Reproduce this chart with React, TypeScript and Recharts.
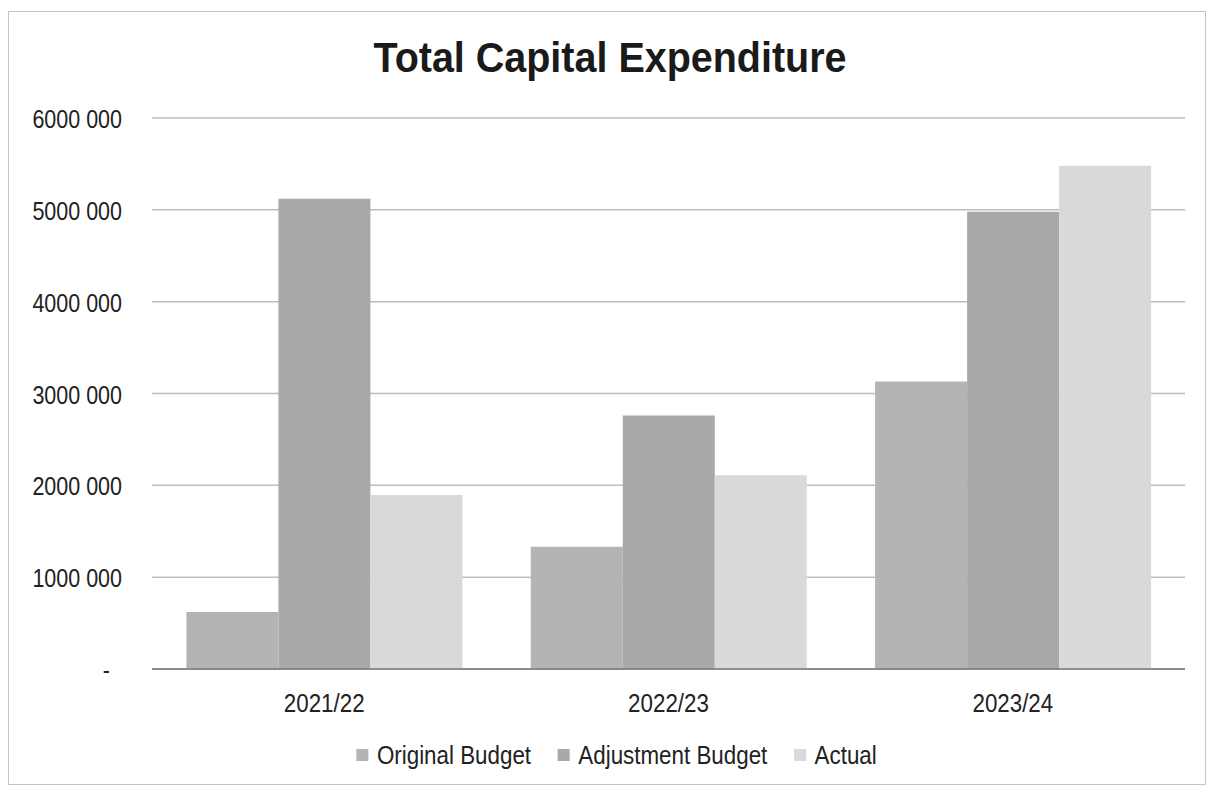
import { BarChart, Bar, XAxis, YAxis, CartesianGrid, Legend } from 'recharts';

// Total capital expenditure per financial year
const YEARS = ['2021/22', '2022/23', '2023/24'];
const ORIGINAL_BUDGET = [620000, 1330000, 3130000];
const ADJUSTMENT_BUDGET = [5120000, 2760000, 4980000];
const ACTUAL = [1895000, 2110000, 5480000];
const Y_TICKS = [0, 1000000, 2000000, 3000000, 4000000, 5000000, 6000000];

const SERIES = [
  { key: 'original', name: 'Original Budget', color: '#b4b4b4' },
  { key: 'adjustment', name: 'Adjustment Budget', color: '#a9a9a9' },
  { key: 'actual', name: 'Actual', color: '#d9d9d9' },
];

const data = YEARS.map((year, i) => ({
  year,
  original: ORIGINAL_BUDGET[i],
  adjustment: ADJUSTMENT_BUDGET[i],
  actual: ACTUAL[i],
}));

// no Arial Narrow here, so squeeze Liberation Sans horizontally
const FONT = '"Liberation Sans", Arial, sans-serif';
const SQUEEZE = 0.86;

// "6000 000" style, zero shown as a dash
const fmt = (v: number) => {
  if (v === 0) return '-';
  const thousands = Math.floor(v / 1000);
  const rest = String(v % 1000).padStart(3, '0');
  return `${thousands} ${rest}`;
};

const YTick = ({ x, y, payload }: any) => (
  <text
    transform={`translate(${payload.value === 0 ? x - 12 : x},${y + 10}) scale(${SQUEEZE},1)`}
    textAnchor="end"
    fontSize={25}
    fontFamily={FONT}
    fill="#222"
  >
    {fmt(payload.value)}
  </text>
);

const XTick = ({ x, y, payload }: any) => (
  <text
    transform={`translate(${x},${y + 43}) scale(${SQUEEZE},1)`}
    textAnchor="middle"
    fontSize={26}
    fontFamily={FONT}
    fill="#222"
  >
    {payload.value}
  </text>
);

const LegendContent = () => (
  <div style={{ display: 'flex', justifyContent: 'center', transform: `translateX(18px) scaleX(${SQUEEZE})`, transformOrigin: '50% 50%' }}>
    <div style={{ display: 'flex', alignItems: 'center', gap: 31, fontFamily: FONT, fontSize: 26, color: '#222', lineHeight: '30px' }}>
      {SERIES.map(s => (
        <span key={s.key} style={{ display: 'flex', alignItems: 'center' }}>
          <span style={{ width: 14, height: 12, background: s.color, marginRight: 10, display: 'inline-block' }} />
          {s.name}
        </span>
      ))}
    </div>
  </div>
);

export default function App() {
  return (
    <div style={{ position: 'absolute', left: 0, top: 0, width: 1210, height: 789, background: '#fff' }}>
      <div
        style={{
          position: 'absolute', left: 8, top: 11, width: 1198, height: 774,
          border: '1.5px solid #c4c4c4', boxSizing: 'border-box',
        }}
      />
      <div
        style={{
          position: 'absolute', left: 0, top: 37, width: 1220, textAlign: 'center',
          fontFamily: FONT, fontWeight: 'bold', fontSize: 42, lineHeight: 1, color: '#1a1a1a',
          transform: 'scaleX(0.94)', transformOrigin: '50% 50%',
        }}
      >
        Total Capital Expenditure
      </div>
      <BarChart
        width={1210}
        height={789}
        data={data}
        margin={{ top: 118, right: 25, bottom: 19, left: 12 }}
        barCategoryGap="10%"
        barGap={0}
      >
        <CartesianGrid vertical={false} stroke="#bdbdbd" strokeWidth={1.5} />
        <XAxis
          dataKey="year"
          height={71}
          axisLine={{ stroke: '#777', strokeWidth: 1.5 }}
          tickLine={false}
          tickSize={0}
          tickMargin={0}
          tick={<XTick />}
        />
        <YAxis
          width={140}
          domain={[0, 6000000]}
          ticks={Y_TICKS}
          axisLine={false}
          tickLine={false}
          tickSize={0}
          tickMargin={30}
          tick={<YTick />}
        />
        <Legend verticalAlign="bottom" height={30} content={<LegendContent />} />
        {SERIES.map(s => (
          <Bar key={s.key} dataKey={s.key} name={s.name} fill={s.color} isAnimationActive={false} />
        ))}
      </BarChart>
    </div>
  );
}
